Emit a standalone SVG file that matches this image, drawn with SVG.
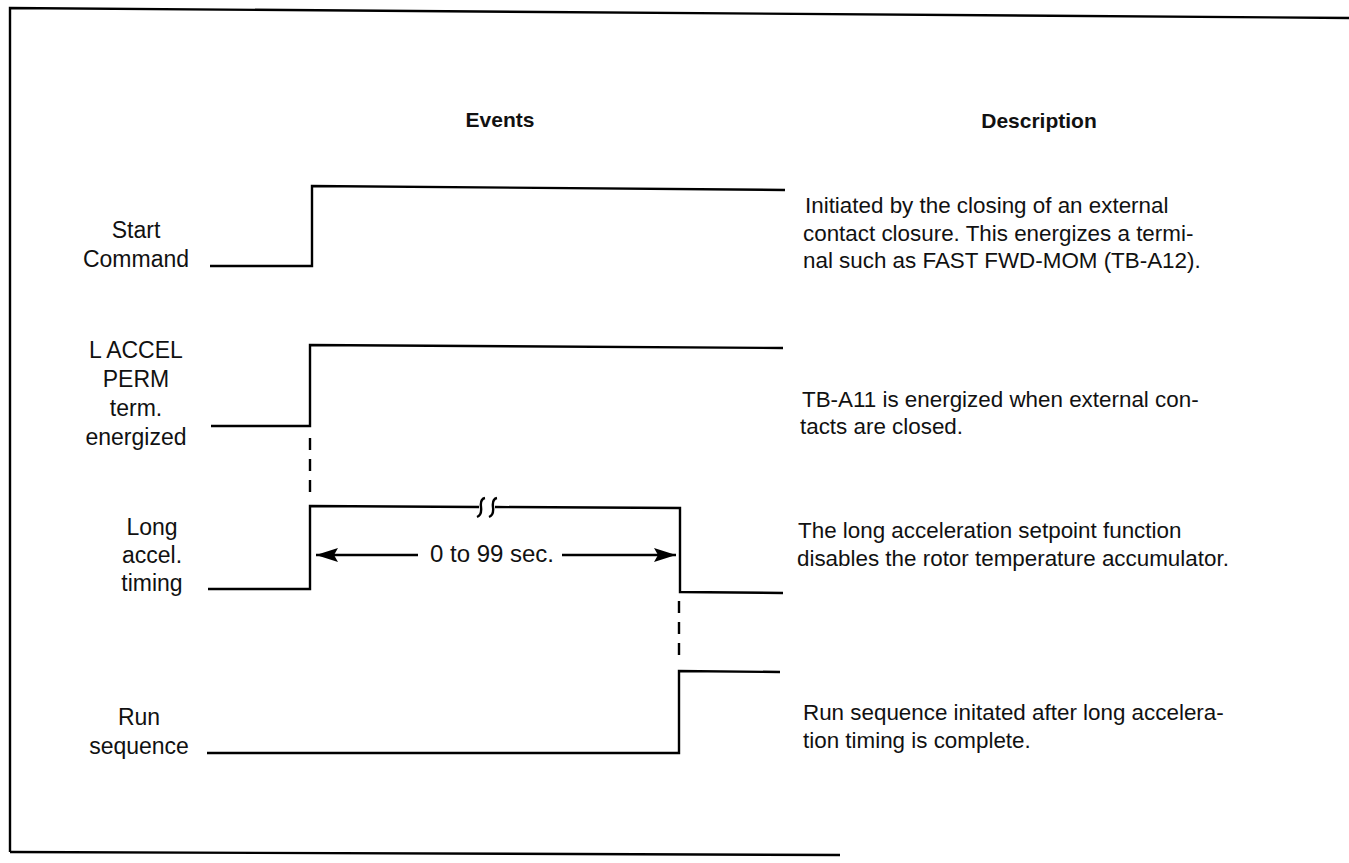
<svg xmlns="http://www.w3.org/2000/svg" width="1349" height="863" viewBox="0 0 1349 863">
<style>
  .ln{fill:none;stroke:#000;stroke-width:2.4;stroke-linejoin:miter;stroke-linecap:butt}
  .dash{fill:none;stroke:#000;stroke-width:2.4;stroke-dasharray:12 9}
  .lbl{font-family:"Liberation Sans",Arial,sans-serif;font-size:23px;fill:#111;text-anchor:middle}
  .desc{font-family:"Liberation Sans",Arial,sans-serif;font-size:22.4px;fill:#111}
  .hdr{font-family:"Liberation Sans",Arial,sans-serif;font-size:21px;font-weight:bold;fill:#111;text-anchor:middle}
</style>
<defs>
  <marker id="ah" viewBox="0 0 22 14" markerWidth="22" markerHeight="14" refX="22" refY="7" orient="auto" markerUnits="userSpaceOnUse">
    <path d="M0,0 L22,7 L0,14 L4,7 z" fill="#000"/>
  </marker>
</defs>
<rect width="1349" height="863" fill="#fff"/>
<g id="frame">
  <path class="ln" d="M10,852 L10,8 L1349,18"/>
  <path class="ln" d="M10,852 L840,855"/>
</g>
<g id="headers">
  <text class="hdr" x="500" y="127">Events</text>
  <text class="hdr" x="1039" y="128">Description</text>
</g>
<g id="node-start">
  <text class="lbl" x="136" y="238">Start</text>
  <text class="lbl" x="136" y="267">Command</text>
  <text class="desc" x="805" y="213">Initiated by the closing of an external</text>
  <text class="desc" x="803" y="241">contact closure. This energizes a termi-</text>
  <text class="desc" x="803" y="268">nal such as FAST FWD-MOM (TB-A12).</text>
</g>
<g id="node-laccel">
  <text class="lbl" x="136" y="358">L ACCEL</text>
  <text class="lbl" x="136" y="387">PERM</text>
  <text class="lbl" x="136" y="416">term.</text>
  <text class="lbl" x="136" y="445">energized</text>
  <text class="desc" x="802" y="407">TB-A11 is energized when external con-</text>
  <text class="desc" x="800" y="434">tacts are closed.</text>
</g>
<g id="node-long">
  <text class="lbl" x="152" y="535">Long</text>
  <text class="lbl" x="152" y="563">accel.</text>
  <text class="lbl" x="152" y="591">timing</text>
  <text class="desc" x="798" y="538">The long acceleration setpoint function</text>
  <text class="desc" x="797" y="566">disables the rotor temperature accumulator.</text>
</g>
<g id="node-run">
  <text class="lbl" x="139" y="725">Run</text>
  <text class="lbl" x="139" y="754">sequence</text>
  <text class="desc" x="803" y="720">Run sequence initated after long accelera-</text>
  <text class="desc" x="803" y="748">tion timing is complete.</text>
</g>
<g id="connectors">
  <path class="ln" d="M210,266 H312 V186 L785,190"/>
  <path class="ln" d="M211,426 H310 V345 L783,348"/>
  <path class="dash" d="M310,438 V497"/>
  <path class="ln" d="M208,589 H310 V506 L479,507"/>
  <path class="ln" d="M495,507 L680,508 V592 L783,593"/>
  <path class="ln" d="M485,498 Q480,499 481,507 Q482,515 477,517"/>
  <path class="ln" d="M497,498 Q492,499 493,507 Q494,515 489,517"/>
  <path class="dash" d="M679,601 V664"/>
  <path class="ln" d="M207,753 H679 V671 L780,672"/>
  <path class="ln" d="M418,555 H316" marker-end="url(#ah)"/>
  <path class="ln" d="M562,555 H676" marker-end="url(#ah)"/>
  <text class="lbl" x="492" y="562" style="font-size:24px">0 to 99 sec.</text>
</g>
</svg>
